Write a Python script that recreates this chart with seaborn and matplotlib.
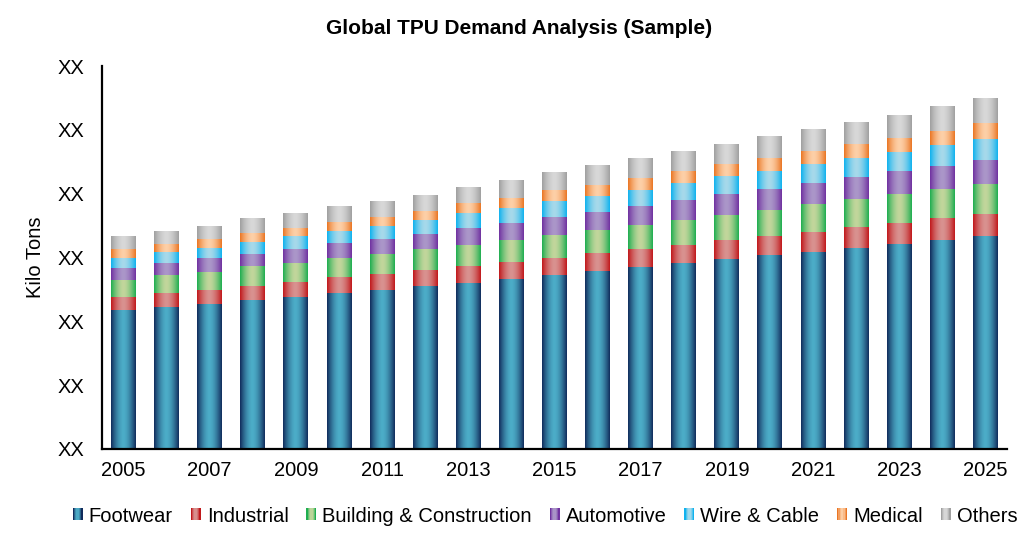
import numpy as np
import pandas as pd
import matplotlib
matplotlib.use('Agg')
import matplotlib.pyplot as plt
import matplotlib.colors as mcolors
from matplotlib.patches import Patch, Rectangle
from matplotlib.legend_handler import HandlerBase
import seaborn as sns

# data (y in tick units, 10 per "XX" step)
years = [str(y) for y in range(2005, 2026)]
footwear = [21.8, 22.3, 22.7, 23.4, 23.8, 24.5, 24.9, 25.5, 26.0, 26.6, 27.3,
            27.9, 28.5, 29.2, 29.8, 30.4, 30.9, 31.5, 32.1, 32.8, 33.4]
industrial = [2.0, 2.2, 2.2, 2.2, 2.4, 2.4, 2.5, 2.5, 2.7, 2.7, 2.7,
              2.8, 2.8, 2.8, 3.0, 3.0, 3.1, 3.3, 3.3, 3.4, 3.4]
building = [2.7, 2.7, 2.8, 3.0, 3.0, 3.1, 3.1, 3.3, 3.3, 3.4, 3.6,
            3.6, 3.8, 3.9, 3.9, 4.1, 4.4, 4.4, 4.5, 4.5, 4.7]
automotive = [1.9, 2.0, 2.2, 2.0, 2.2, 2.2, 2.4, 2.4, 2.7, 2.7, 2.8,
              2.8, 3.0, 3.1, 3.3, 3.3, 3.3, 3.4, 3.6, 3.6, 3.8]
wire = [1.6, 1.6, 1.6, 1.9, 1.9, 1.9, 2.0, 2.2, 2.2, 2.4, 2.4,
        2.5, 2.5, 2.7, 2.7, 2.8, 3.0, 3.0, 3.0, 3.3, 3.3]
medical = [1.3, 1.3, 1.4, 1.3, 1.4, 1.4, 1.4, 1.4, 1.6, 1.6, 1.7,
           1.7, 1.9, 1.9, 2.0, 2.0, 2.0, 2.2, 2.2, 2.2, 2.4]
others = [2.0, 2.0, 2.0, 2.2, 2.2, 2.4, 2.4, 2.5, 2.5, 2.7, 2.7,
          3.0, 3.0, 3.0, 3.1, 3.3, 3.4, 3.4, 3.6, 3.8, 3.8]

segments = ['Footwear', 'Industrial', 'Building & Construction', 'Automotive',
            'Wire & Cable', 'Medical', 'Others']
series = [footwear, industrial, building, automotive, wire, medical, others]
# (edge colour, centre colour) for the horizontal gradients
grads = [('#112c5c', '#4cadc8'),
         ('#c0191c', '#d99290'),
         ('#1fae50', '#c2d69c'),
         ('#7032a0', '#ab97c9'),
         ('#10b2ee', '#a7d9ea'),
         ('#ea7624', '#fdd0a8'),
         ('#a0a0a0', '#d8d8d8')]


def grad_row(edge, centre, n=64):
    e = np.array(mcolors.to_rgb(edge))
    c = np.array(mcolors.to_rgb(centre))
    x = np.linspace(0, 1, n)
    t = np.abs(2 * x - 1) ** 1.7
    return (c[None, :] * (1 - t[:, None]) + e[None, :] * t[:, None])[None, :, :]


class GradPatch(Patch):
    def __init__(self, edge, centre, label):
        super().__init__(label=label)
        self.edge_c = edge
        self.centre_c = centre


class GradHandler(HandlerBase):
    def create_artists(self, legend, orig_handle, xdescent, ydescent,
                       width, height, fontsize, trans):
        row = grad_row(orig_handle.edge_c, orig_handle.centre_c, 8)[0]
        n = len(row)
        arts = []
        for i, col in enumerate(row):
            r = Rectangle((-xdescent + i * width / n, -ydescent), width / n, height,
                          facecolor=col, edgecolor='none', transform=trans)
            arts.append(r)
        return arts


sns.set_theme(style='white')
plt.rcParams['font.family'] = ['Liberation Sans', 'DejaVu Sans']
plt.rcParams.update({'text.color': 'black', 'axes.labelcolor': 'black',
                     'xtick.color': 'black', 'ytick.color': 'black'})

fig = plt.figure(figsize=(10.29, 5.47), dpi=100)
ax = fig.add_axes([0.0991, 0.1792, 0.8795, 0.7001])

bottom = np.zeros(len(years))
for name, vals, (edge, centre) in zip(segments, series, grads):
    n_before = len(ax.patches)
    sns.barplot(x=years, y=vals, bottom=bottom.copy(), color=centre,
                width=0.58, errorbar=None, ax=ax)
    for p in ax.patches[n_before:]:
        x0, y0, w, h = p.get_x(), p.get_y(), p.get_width(), p.get_height()
        ax.imshow(grad_row(edge, centre), extent=[x0, x0 + w, y0, y0 + h],
                  aspect='auto', interpolation='bilinear', zorder=2)
        p.set_visible(False)
    bottom += np.array(vals)

ax.set_xlim(-0.5, len(years) - 0.5)
ax.set_ylim(0, 60)
ax.set_yticks(range(0, 61, 10))
ax.set_yticklabels(['XX'] * 7)
ax.set_xticks(range(0, len(years), 2))
ax.set_xticklabels(years[::2])
ax.tick_params(axis='y', length=0, pad=13, labelsize=14.5, labelcolor='black')
ax.tick_params(axis='x', length=0, pad=9, labelsize=14.5, labelcolor='black')
ax.set_xlabel('')
ax.set_ylabel('Kilo Tons', fontsize=14.5, color='black')
ax.yaxis.set_label_coords(-0.063, 0.5)

for s in ['top', 'right']:
    ax.spines[s].set_visible(False)
for s in ['left', 'bottom']:
    ax.spines[s].set_color('black')
    ax.spines[s].set_linewidth(1.6)

fig.text(519 / 1029, 1 - 28 / 547, 'Global TPU Demand Analysis (Sample)',
         ha='center', va='center', fontsize=15, fontweight='bold', color='black')

handles = [GradPatch(e, c, n) for n, (e, c) in zip(segments, grads)]
fig.legend(handles=handles, loc='center', ncol=7, frameon=False,
           bbox_to_anchor=(545 / 1029, 31 / 547), fontsize=14.5,
           handler_map={GradPatch: GradHandler()}, labelcolor='black',
           handlelength=0.5, handleheight=0.55, handletextpad=0.3,
           columnspacing=0.88, borderpad=0)

fig.savefig('out.png', dpi=100)
